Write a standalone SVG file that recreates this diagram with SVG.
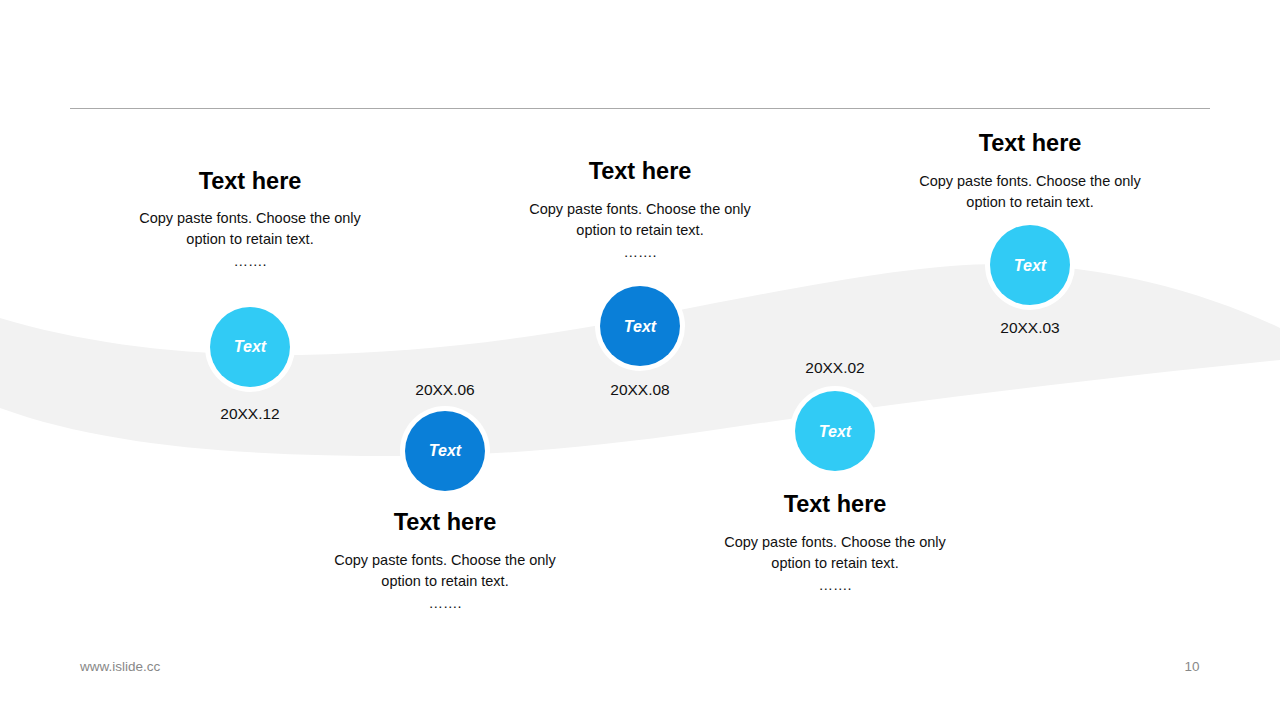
<svg xmlns="http://www.w3.org/2000/svg" width="1280" height="720" viewBox="0 0 1280 720">
<style>
.title{font-family:"Liberation Sans",Arial,sans-serif;font-size:23.5px;font-weight:bold;fill:#000;text-anchor:middle}
.desc{font-family:"Liberation Sans",Arial,sans-serif;font-size:14.5px;fill:#111;text-anchor:middle}
.date{font-family:"Liberation Sans",Arial,sans-serif;font-size:15.5px;fill:#111;text-anchor:middle}
.lbl{font-family:"Liberation Sans",Arial,sans-serif;font-size:16px;font-weight:bold;font-style:italic;fill:#fff;text-anchor:middle}
.ring{fill:#fff}
.light{fill:#31CBF5}
.dark{fill:#0A7FD8}
.foot{font-family:"Liberation Sans",Arial,sans-serif;font-size:13.5px;fill:#888}
</style>
<rect width="1280" height="720" fill="#fff"/>
<line x1="70" y1="108.5" x2="1210" y2="108.5" stroke="#AAAAAA" stroke-width="1"/>
<g id="band">
<path d="M0,318 C90,345 190,356 300,355 C450,352 560,334 700,306 C820,283 920,264 1000,264 C1100,264 1200,290 1280,328 L1280,360 C1100,378 900,402 700,432 C600,446 500,456 400,456 C250,456 110,448 0,408 Z" fill="#F2F2F2"/>
</g>
<g id="connectors"></g>
<g id="node1">
<text class="title" x="250" y="189">Text here</text>
<text class="desc" x="250" y="223">Copy paste fonts. Choose the only</text>
<text class="desc" x="250" y="244">option to retain text.</text>
<text class="desc" x="250" y="266">…….</text>
<circle class="ring" cx="250" cy="347" r="45"/>
<circle class="light" cx="250" cy="347" r="40"/>
<text class="lbl" x="250" y="352">Text</text>
<text class="date" x="250" y="419">20XX.12</text>
</g>
<g id="node2">
<text class="date" x="445" y="395">20XX.06</text>
<circle class="ring" cx="445" cy="451" r="45"/>
<circle class="dark" cx="445" cy="451" r="40"/>
<text class="lbl" x="445" y="456">Text</text>
<text class="title" x="445" y="530">Text here</text>
<text class="desc" x="445" y="565">Copy paste fonts. Choose the only</text>
<text class="desc" x="445" y="586">option to retain text.</text>
<text class="desc" x="445" y="608">…….</text>
</g>
<g id="node3">
<text class="title" x="640" y="179">Text here</text>
<text class="desc" x="640" y="214">Copy paste fonts. Choose the only</text>
<text class="desc" x="640" y="235">option to retain text.</text>
<text class="desc" x="640" y="257">…….</text>
<circle class="ring" cx="640" cy="326" r="45"/>
<circle class="dark" cx="640" cy="326" r="40"/>
<text class="lbl" x="640" y="332">Text</text>
<text class="date" x="640" y="395">20XX.08</text>
</g>
<g id="node4">
<text class="date" x="835" y="373">20XX.02</text>
<circle class="ring" cx="835" cy="431" r="45"/>
<circle class="light" cx="835" cy="431" r="40"/>
<text class="lbl" x="835" y="437">Text</text>
<text class="title" x="835" y="512">Text here</text>
<text class="desc" x="835" y="547">Copy paste fonts. Choose the only</text>
<text class="desc" x="835" y="568">option to retain text.</text>
<text class="desc" x="835" y="590">…….</text>
</g>
<g id="node5">
<text class="title" x="1030" y="151">Text here</text>
<text class="desc" x="1030" y="186">Copy paste fonts. Choose the only</text>
<text class="desc" x="1030" y="207">option to retain text.</text>
<circle class="ring" cx="1030" cy="265" r="45"/>
<circle class="light" cx="1030" cy="265" r="40"/>
<text class="lbl" x="1030" y="271">Text</text>
<text class="date" x="1030" y="333">20XX.03</text>
</g>
<text class="foot" x="80" y="671">www.islide.cc</text>
<text class="foot" x="1192" y="671" text-anchor="middle">10</text>
</svg>
